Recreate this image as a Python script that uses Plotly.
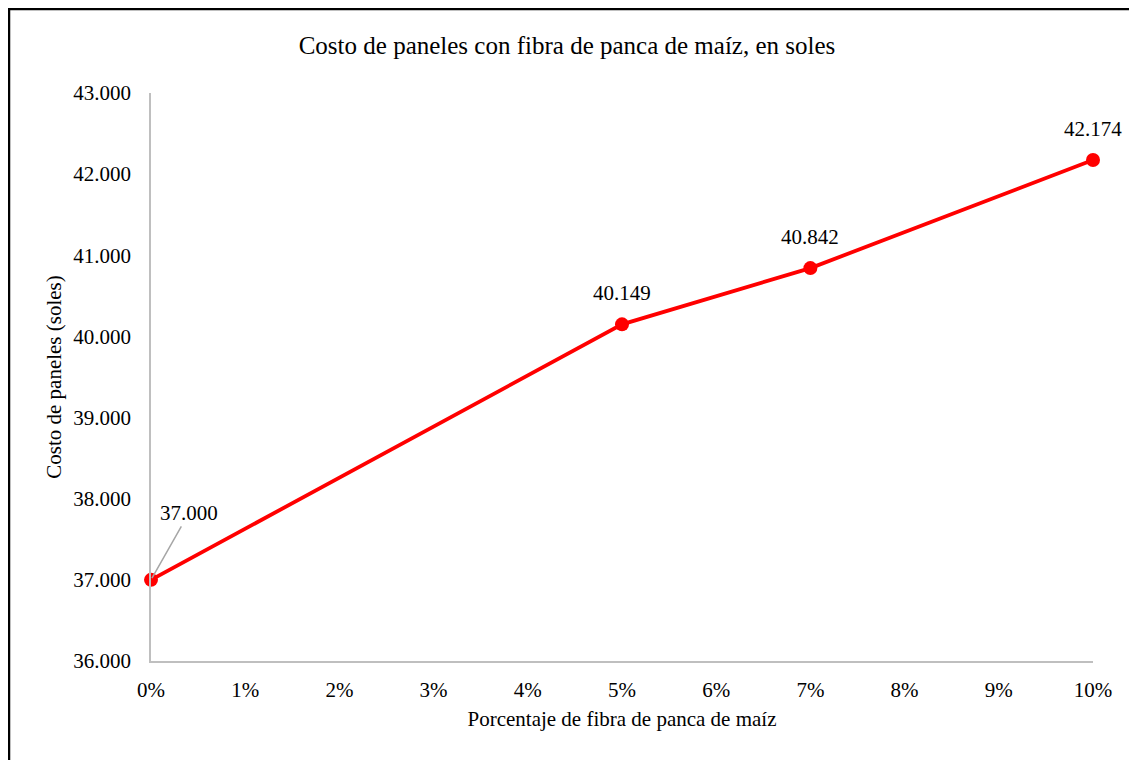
import plotly.graph_objects as go

x_vals = [0, 5, 7, 10]
costs = [37000, 40149, 40842, 42174]
x_ticks = list(range(0, 11))
x_tick_labels = [f"{v}%" for v in x_ticks]
y_ticks = [36000, 37000, 38000, 39000, 40000, 41000, 42000, 43000]

W, H = 1137, 760
OFF = 8  # page body margin
ml, mt = 151 - OFF, 93 - OFF
mr = W - (1093 - OFF)
mb = H - (661 - OFF)
FONT = "Liberation Serif, Times New Roman, serif"
FS = 21

fig = go.Figure()
fig.add_trace(go.Scatter(
    x=x_vals, y=costs, mode="lines+markers",
    line=dict(color="#FF0000", width=3.8),
    marker=dict(color="#FF0000", size=14),
    hoverinfo="skip", showlegend=False, cliponaxis=False,
))

def fmt(v):
    return f"{v:,}".replace(",", ".")

annotations = []
for i, (xv, yv) in enumerate(zip(x_vals, costs)):
    if i == 0:
        annotations.append(dict(
            x=xv, y=yv, xref="x", yref="y", text=fmt(yv),
            showarrow=True, arrowhead=0, arrowwidth=1.5, arrowcolor="#A6A6A6",
            ax=38, ay=-67, standoff=2,
            font=dict(family=FONT, size=FS, color="#000000"),
        ))
    else:
        annotations.append(dict(
            x=xv, y=yv, xref="x", yref="y", text=fmt(yv),
            showarrow=False, yshift=31,
            font=dict(family=FONT, size=FS, color="#000000"),
        ))

pw = W - ml - mr
ph = H - mt - mb
def px_x(p):
    return (p - ml) / pw
def px_y(p):
    return (H - mb - p) / ph

fig.update_layout(
    width=W, height=H,
    margin=dict(l=ml, r=mr, t=mt, b=mb, autoexpand=False),
    paper_bgcolor="white", plot_bgcolor="white",
    separators=",.",
    font=dict(family=FONT, size=FS, color="#000000"),
    title=dict(text="Costo de paneles con fibra de panca de maíz, en soles",
               x=(567 - OFF) / W, xanchor="center", xref="container",
               y=1 - (45 - OFF) / H, yanchor="middle", yref="container",
               font=dict(family=FONT, size=25, color="#000000")),
    xaxis=dict(range=[0, 10], tickvals=x_ticks, ticktext=x_tick_labels,
               showgrid=False, zeroline=False, showline=True,
               linecolor="#BFBFBF", linewidth=1.5, ticks="", ticklabelstandoff=9,
               tickfont=dict(family=FONT, size=FS),
               title=dict(text="Porcentaje de fibra de panca de maíz",
                          font=dict(family=FONT, size=FS), standoff=10)),
    yaxis=dict(range=[36000, 43000], tickvals=y_ticks, tickformat=",d",
               showgrid=False, zeroline=False, showline=True,
               linecolor="#BFBFBF", linewidth=1.5, ticks="", ticklabelstandoff=14,
               tickfont=dict(family=FONT, size=FS),
               title=dict(text="Costo de paneles (soles)",
                          font=dict(family=FONT, size=FS), standoff=6)),
    annotations=annotations,
    shapes=[dict(type="rect", xref="paper", yref="paper",
                 x0=px_x(1), x1=px_x(W + 40), y0=px_y(H + 40), y1=px_y(1),
                 line=dict(color="#000000", width=2.5), fillcolor="rgba(0,0,0,0)",
                 layer="above")],
)

fig.write_html("out.html")
